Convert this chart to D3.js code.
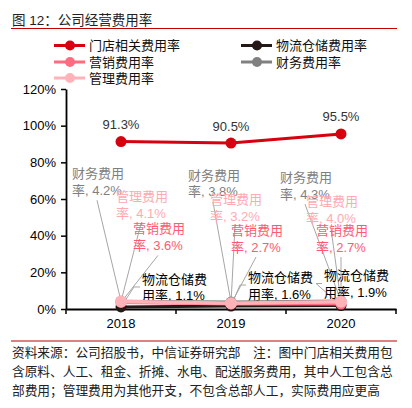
<!DOCTYPE html>
<html>
<head>
<meta charset="utf-8">
<script src="https://cdn.jsdelivr.net/npm/d3@7"></script>
<style>
  body { margin: 0; background: #fff; }
  svg { display: block; font-family: "Liberation Sans", Arial, "Noto Sans CJK SC", sans-serif; }
</style>
</head>
<body>
<div id="chart"></div>
<script>
// données
const years = ["2018", "2019", "2020"];
const seriesNames = ["门店相关费用率", "物流仓储费用率", "营销费用率", "财务费用率", "管理费用率"];
const storeRate = [91.3, 90.5, 95.5];
const logisticsRate = [1.1, 1.6, 1.9];
const marketingRate = [3.6, 2.7, 2.7];
const financeRate = [4.2, 3.8, 4.3];
const adminRate = [4.1, 3.2, 4.0];
const yTicks = [0, 20, 40, 60, 80, 100, 120];

const title = "图 12：公司经营费用率";
const notes = [
  "资料来源：公司招股书，中信证券研究部　注：图中门店相关费用包",
  "含原料、人工、租金、折摊、水电、配送服务费用，其中人工包含总",
  "部费用；管理费用为其他开支，不包含总部人工，实际费用应更高"
];

// couleurs des séries
const colors = ["#d7000f", "#231815", "#ff6b81", "#808080", "#ffb3b9"];
const labelColors = ["#333333", "#000000", "#ff5a72", "#7f7f7f", "#ffaab0"];

// position des étiquettes (décalage par rapport au point, en px)
const labelOffsets = {
  "财务费用率": [[-49, -128], [-43, -127], [-61, -124]],
  "管理费用率": [[-5, -105], [-21, -104], [-35, -100]],
  "营销费用率": [[12, -74], [0, -74], [-25, -74]],
  "物流仓储费用率": [[21, -28], [17, -29], [-17, -30]]
};

const width = 412, height = 408;
const svg = d3.select('#chart').append('svg')
  .attr('width', width)
  .attr('height', height);

// titre + filets rouges
svg.append('text').attr('x', 12).attr('y', 25)
  .attr('font-size', 13.5).attr('fill', '#222').text(title);
svg.append('line').attr('x1', 11).attr('x2', 397).attr('y1', 28.5).attr('y2', 28.5)
  .attr('stroke', '#c00000').attr('stroke-width', 1.2);
svg.append('line').attr('x1', 11).attr('x2', 397).attr('y1', 341).attr('y2', 341)
  .attr('stroke', '#c00000').attr('stroke-width', 1.2);

// notes
notes.forEach((t, i) => {
  svg.append('text').attr('x', 12).attr('y', 357 + i * 19)
    .attr('font-size', 12.7).attr('fill', '#222').text(t);
});

// échelles
const x = d3.scaleBand().domain(years).range([66, 396]);
const y = d3.scaleLinear().domain([0, 120]).range([309, 89]);

// axes
const yAxis = svg.append('g')
  .attr('transform', 'translate(66,0)')
  .call(d3.axisLeft(y).tickValues(yTicks).tickFormat(d => d + '%').tickSize(5).tickSizeOuter(0));
const xAxis = svg.append('g')
  .attr('transform', 'translate(0,309)')
  .call(d3.axisBottom(x).tickSize(0));
// ticks entre les catégories
xAxis.selectAll('.sep').data([0, 1, 2, 3]).enter().append('line')
  .attr('x1', i => 66 + i * x.step()).attr('x2', i => 66 + i * x.step())
  .attr('y1', 0).attr('y2', 5).attr('stroke', '#000').attr('stroke-width', 1.5);

[yAxis, xAxis].forEach(g => {
  g.select('.domain').attr('stroke', '#000').attr('stroke-width', 1.8);
  g.selectAll('.tick line').attr('stroke', '#000').attr('stroke-width', 1.5);
  g.selectAll('text').attr('font-size', 13).attr('fill', '#000')
    .attr('font-family', '"Liberation Sans", Arial, sans-serif');
});
yAxis.selectAll('text').attr('x', -10);
xAxis.selectAll('text').attr('dy', '1.2em');

const allSeries = [storeRate, logisticsRate, marketingRate, financeRate, adminRate];
const cx = i => x(years[i]) + x.bandwidth() / 2;

// lignes de rappel et étiquettes
const labelled = ["财务费用率", "管理费用率", "营销费用率", "物流仓储费用率"];
labelled.forEach(name => {
  const si = seriesNames.indexOf(name);
  const vals = allSeries[si];
  const first = name === "物流仓储费用率" ? "物流仓储费" : name.slice(0, 4);
  const second = name === "物流仓储费用率" ? "用率, " : "率, ";
  vals.forEach((v, i) => {
    const px = cx(i), py = y(v);
    const [dx, dy] = labelOffsets[name][i];
    const lx = px + dx, ly = py + dy;
    let pts;
    if (name === "物流仓储费用率") {
      pts = [[px, py], [lx - 8, ly + 8], [lx - 2, ly + 8]];
    } else {
      pts = [[px, py], [lx + 25, ly + 27]];
    }
    svg.append('path')
      .attr('d', d3.line()(pts))
      .attr('fill', 'none')
      .attr('stroke', '#a6a6a6')
      .attr('stroke-width', 1);
    const t = svg.append('text')
      .attr('x', lx).attr('y', ly)
      .attr('font-size', 13)
      .attr('fill', labelColors[si]);
    t.append('tspan').attr('x', lx).attr('dy', '0.35em').text(first);
    t.append('tspan').attr('x', lx).attr('dy', '1.3em').text(second + v.toFixed(1) + '%');
  });
});

// courbes
const line = d3.line().x((d, i) => cx(i)).y(d => y(d));
const drawOrder = [0, 1, 3, 2, 4];
drawOrder.forEach(si => {
  svg.append('path')
    .datum(allSeries[si])
    .attr('d', line)
    .attr('fill', 'none')
    .attr('stroke', colors[si])
    .attr('stroke-width', si === 4 ? 3.5 : 3);
  svg.selectAll(null).data(allSeries[si]).enter().append('circle')
    .attr('cx', (d, i) => cx(i))
    .attr('cy', d => y(d))
    .attr('r', si === 4 ? 6 : 5.5)
    .attr('fill', colors[si]);
});

// étiquettes de la série principale
svg.selectAll('.storeLbl').data(storeRate).enter().append('text')
  .attr('x', (d, i) => cx(i))
  .attr('y', d => y(d) - 17)
  .attr('dy', '0.35em')
  .attr('text-anchor', 'middle')
  .attr('font-size', 13)
  .attr('fill', labelColors[0])
  .text(d => d.toFixed(1) + '%');

// légende
const legendPos = [[54, 45.5], [241, 45.5], [54, 62], [241, 62], [54, 78]];
seriesNames.forEach((name, si) => {
  const [lx, ly] = legendPos[si];
  const g = svg.append('g').attr('transform', `translate(${lx},${ly})`);
  g.append('line').attr('x1', 0).attr('x2', 31).attr('y1', 0).attr('y2', 0)
    .attr('stroke', colors[si]).attr('stroke-width', 3);
  g.append('circle').attr('cx', 16).attr('cy', 0).attr('r', 5).attr('fill', colors[si]);
  g.append('text').attr('x', 35).attr('y', 0).attr('dy', '0.35em')
    .attr('font-size', 13).attr('fill', '#111').text(name);
});
</script>
</body>
</html>
